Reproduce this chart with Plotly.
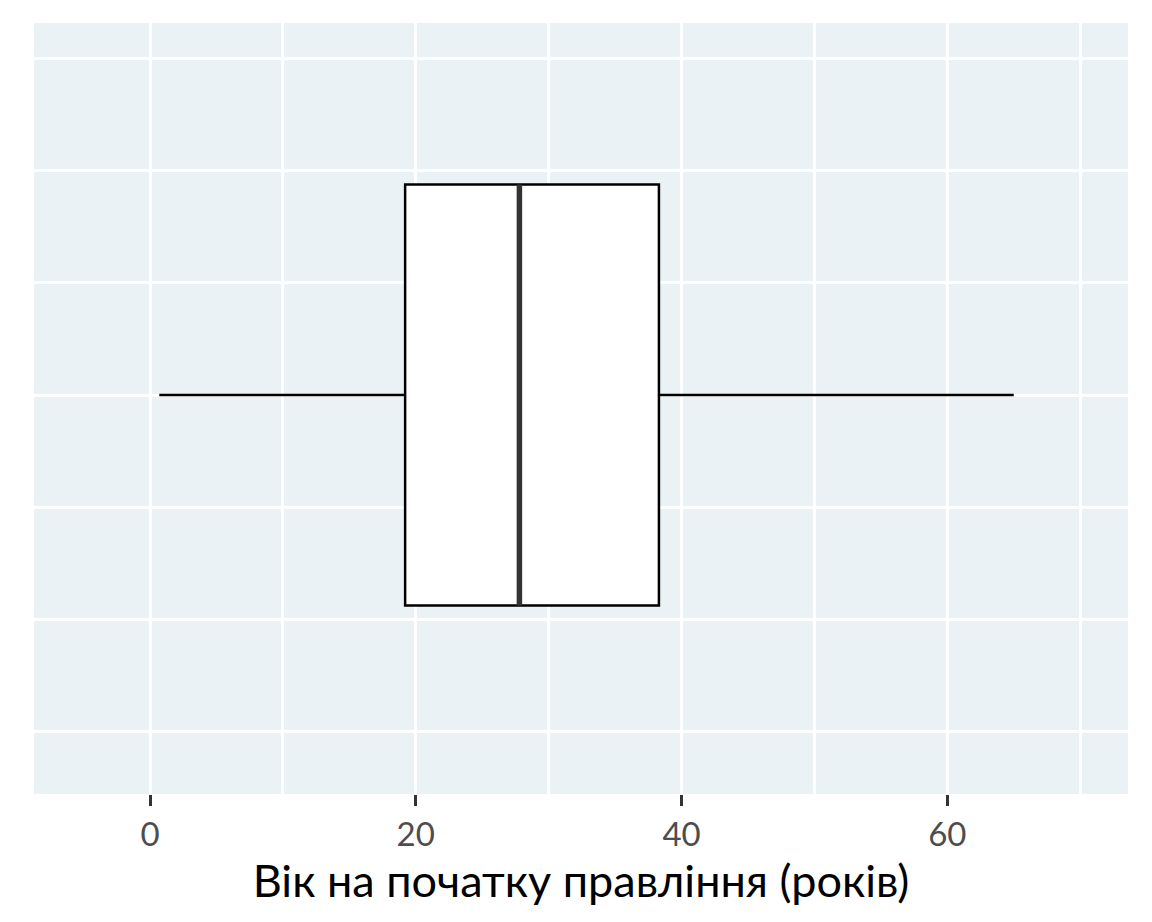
import plotly.graph_objects as go

# Data
category = [0]
q1_vals = [19.2]
median_vals = [27.8]
q3_vals = [38.3]
lower_vals = [0.7]
upper_vals = [65.0]
x_tick_vals = [0, 20, 40, 60]
x_tick_text = ["0", "20", "40", "60"]
x_title = "Вік на початку правління (років)"

fig = go.Figure()

fig.add_trace(go.Box(
    y=category,
    q1=q1_vals, median=median_vals, q3=q3_vals,
    lowerfence=lower_vals, upperfence=upper_vals,
    orientation="h",
    width=0.75,
    fillcolor="white",
    line=dict(color="black", width=2.5),
    whiskerwidth=0,
    boxpoints=False,
    hoverinfo="skip",
    showlegend=False,
))

# thicker median line (degenerate box at the median)
fig.add_trace(go.Box(
    y=category,
    q1=median_vals, median=median_vals, q3=median_vals,
    lowerfence=median_vals, upperfence=median_vals,
    orientation="h",
    width=0.75,
    fillcolor="rgba(0,0,0,0)",
    line=dict(color="#333333", width=5.5),
    whiskerwidth=0,
    boxpoints=False,
    hoverinfo="skip",
    showlegend=False,
))

fig.update_layout(
    width=1136, height=906,
    margin=dict(l=26, r=16, t=15, b=120),
    paper_bgcolor="white",
    plot_bgcolor="#EAF2F5",
    font=dict(family="Lato", color="#4d4d4d"),
    showlegend=False,
    xaxis=dict(
        range=[-8.73, 73.6],
        tickvals=x_tick_vals, ticktext=x_tick_text,
        tickfont=dict(size=33, color="#4d4d4d", family="Lato"),
        ticks="outside", ticklen=11, tickwidth=2.5, tickcolor="#333333",
        showgrid=True, gridcolor="white", gridwidth=3,
        minor=dict(dtick=10, tick0=0, showgrid=True, gridcolor="white", gridwidth=3, ticks=""),
        zeroline=False, showline=False,
        title=dict(text=x_title, font=dict(size=45, color="black", family="Lato"), standoff=4),
        automargin=False,
    ),
    yaxis=dict(
        range=[-0.711, 0.663],
        tick0=0, dtick=0.2,
        showticklabels=False, ticks="",
        showgrid=True, gridcolor="white", gridwidth=3,
        zeroline=False, showline=False,
        automargin=False,
    ),
)

fig.write_html("out.html")
